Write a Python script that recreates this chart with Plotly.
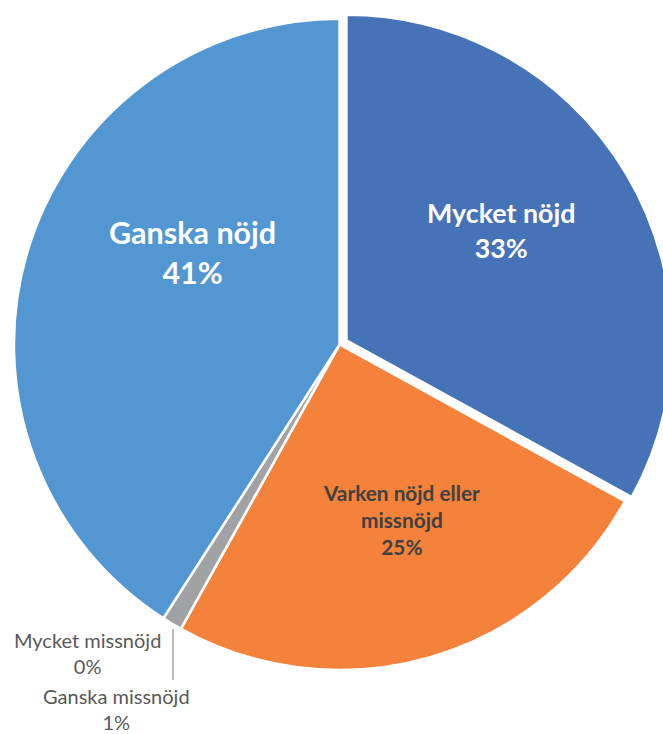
import plotly.graph_objects as go

labels = ["Mycket nöjd", "Varken nöjd eller missnöjd", "Mycket missnöjd", "Ganska missnöjd", "Ganska nöjd"]
values = [33.0, 25.1, 0.0, 1.0, 40.9]
pct_labels = ["33%", "25%", "0%", "1%", "41%"]
colors = ["#4672B8", "#F4823A", "#7F7F7F", "#A0A2A6", "#5296D2"]
pulls = [0.0246, 0, 0, 0, 0]

W, H = 680, 734
FONT = "Lato"

def px(x, y):
    return x / W, 1 - y / H

fig = go.Figure(go.Pie(
    labels=labels, values=values, sort=False, direction="clockwise", rotation=0,
    marker=dict(colors=colors, line=dict(color="white", width=2.5)),
    pull=pulls, textinfo="none", hoverinfo="label+percent",
    domain=dict(x=[5.9 / W, 673.2 / W], y=[1 - 678.0 / H, 1 - 10.8 / H]),
    showlegend=False,
))

def label(i, x, y, size, color, bold, text=None):
    t = text if text is not None else labels[i]
    t = t + "<br>" + pct_labels[i]
    if bold:
        t = "<b>" + t + "</b>"
    ax, ay = px(x, y)
    fig.add_annotation(x=ax, y=ay, xref="paper", yref="paper", text=t, showarrow=False,
                       font=dict(family=FONT, size=size, color=color), align="center",
                       xanchor="center", yanchor="middle", borderpad=0)

label(4, 192, 252, 30.5, "white", True)
label(0, 501, 231, 26.8, "white", True)
label(1, 401, 519, 20.8, "#404040", True, text="Varken nöjd eller<br>missnöjd")
label(2, 87, 653, 20, "#595959", False)
label(3, 116, 709, 20, "#595959", False)

x0, y0 = px(173, 629)
x1, y1 = px(173, 680)
fig.add_shape(type="line", xref="paper", yref="paper", x0=x0, y0=y0, x1=x1, y1=y1,
              line=dict(color="#A6A6A6", width=1.5))

fig.update_layout(width=W, height=H, margin=dict(l=0, r=0, t=0, b=0),
                  paper_bgcolor="white", plot_bgcolor="white")

fig.write_html("out.html", config={"displayModeBar": False},
               post_script="document.body.style.overflow='hidden';document.body.style.margin='0';")
